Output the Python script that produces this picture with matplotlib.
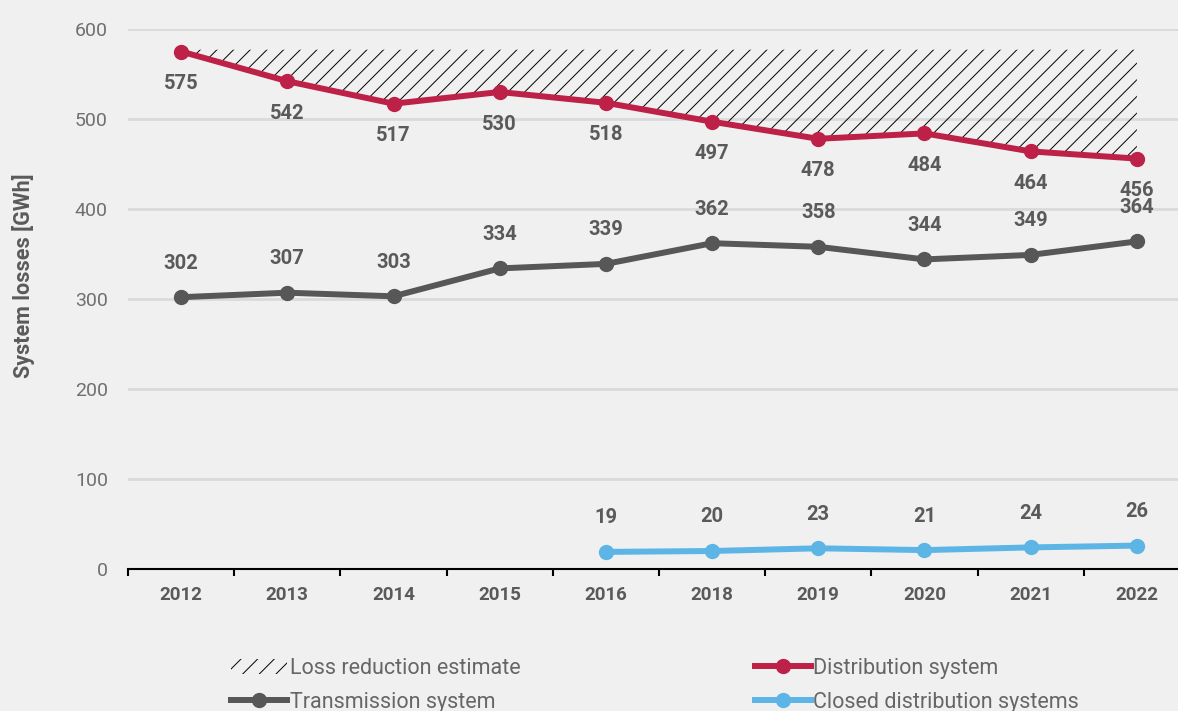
import numpy as np
import matplotlib.pyplot as plt
from matplotlib.patches import Patch
from matplotlib.lines import Line2D

# Data
# -----------------------------------------------------------
years = ["2012", "2013", "2014", "2015", "2016", "2018", "2019", "2020", "2021", "2022"]
distribution = [575, 542, 517, 530, 518, 497, 478, 484, 464, 456]
transmission = [302, 307, 303, 334, 339, 362, 358, 344, 349, 364]
closed_years = ["2016", "2018", "2019", "2020", "2021", "2022"]
closed = [19, 20, 23, 21, 24, 26]
loss_reduction_top = 577  # upper edge of the hatched estimate

# Colours
red = "#be2148"
grey = "#575757"
blue = "#5db5e6"
bg = "#eff0ef"
text_grey = "#5a5a5a"

plt.rcParams['font.family'] = ['Roboto', 'DejaVu Sans']
plt.rcParams['hatch.linewidth'] = 0.7

fig = plt.figure(figsize=(11.78, 7.11), dpi=100, facecolor=bg)
ax = fig.add_axes([128 / 1178, 142 / 711, 1062 / 1178, 540 / 711])
ax.set_facecolor(bg)

x = np.arange(len(years))
xc = np.array([years.index(y) for y in closed_years])

# Hatched loss reduction area
ax.fill_between(x, distribution, loss_reduction_top, facecolor='none',
                edgecolor='black', linewidth=0, hatch='//', zorder=2)

ax.plot(x, transmission, color=grey, lw=4.3, marker='o', ms=10, zorder=4, clip_on=False)
ax.plot(x, distribution, color=red, lw=4.3, marker='o', ms=10, zorder=5, clip_on=False)
ax.plot(xc, closed, color=blue, lw=4.3, marker='o', ms=10, zorder=4, clip_on=False)

# Data labels
lab = dict(ha='center', va='center', fontsize=14.5, fontweight='bold',
           color=text_grey, textcoords='offset pixels')
for i, v in enumerate(distribution):
    ax.annotate(str(v), (x[i], v), xytext=(0, -32), **lab)
for i, v in enumerate(transmission):
    ax.annotate(str(v), (x[i], v), xytext=(0, 34), **lab)
for i, v in zip(xc, closed):
    ax.annotate(str(v), (i, v), xytext=(0, 34), **lab)

# Axes styling
ax.set_xlim(-0.5, len(years) - 0.5)
ax.set_ylim(0, 600)
ax.set_yticks([0, 100, 200, 300, 400, 500, 600])
ax.grid(axis='y', color='#d9dad9', lw=2)
ax.set_axisbelow(True)
for s in ['left', 'right', 'top']:
    ax.spines[s].set_visible(False)
ax.spines['bottom'].set_color('black')
ax.spines['bottom'].set_linewidth(1.5)
ax.spines['bottom'].set_zorder(6)

ax.set_xticks(x)
ax.set_xticklabels(years, fontsize=13.5, fontweight='bold', color=text_grey)
ax.tick_params(axis='x', length=0, pad=12)
ax.set_xticks(np.arange(-0.5, len(years)), minor=True)
ax.tick_params(axis='x', which='minor', length=5, width=1.5, color='black')
ax.tick_params(axis='y', length=0, pad=14.5, labelsize=14, labelcolor='#707070')

ax.set_ylabel("System losses [GWh]", fontsize=15.5, fontweight='bold', color=text_grey)
ax.yaxis.set_label_coords(-0.088, 0.544)

# Legend
handles = [
    Patch(facecolor='none', edgecolor='black', linewidth=0, hatch='//'),
    Line2D([], [], color=grey, lw=4.3, marker='o', ms=10),
    Line2D([], [], color=red, lw=4.3, marker='o', ms=10),
    Line2D([], [], color=blue, lw=4.3, marker='o', ms=10),
]
labels = ["Loss reduction estimate", "Transmission system",
          "Distribution system", "Closed distribution systems"]
leg = fig.legend(handles, labels, ncol=2, loc='lower left',
                 bbox_to_anchor=(212 / 1178, -0.03), frameon=False,
                 fontsize=15.5, handlelength=2.6, handletextpad=0.1,
                 columnspacing=10.9, labelspacing=0.62, labelcolor='#666666')

fig.savefig("out.png", dpi=100, facecolor=bg)
